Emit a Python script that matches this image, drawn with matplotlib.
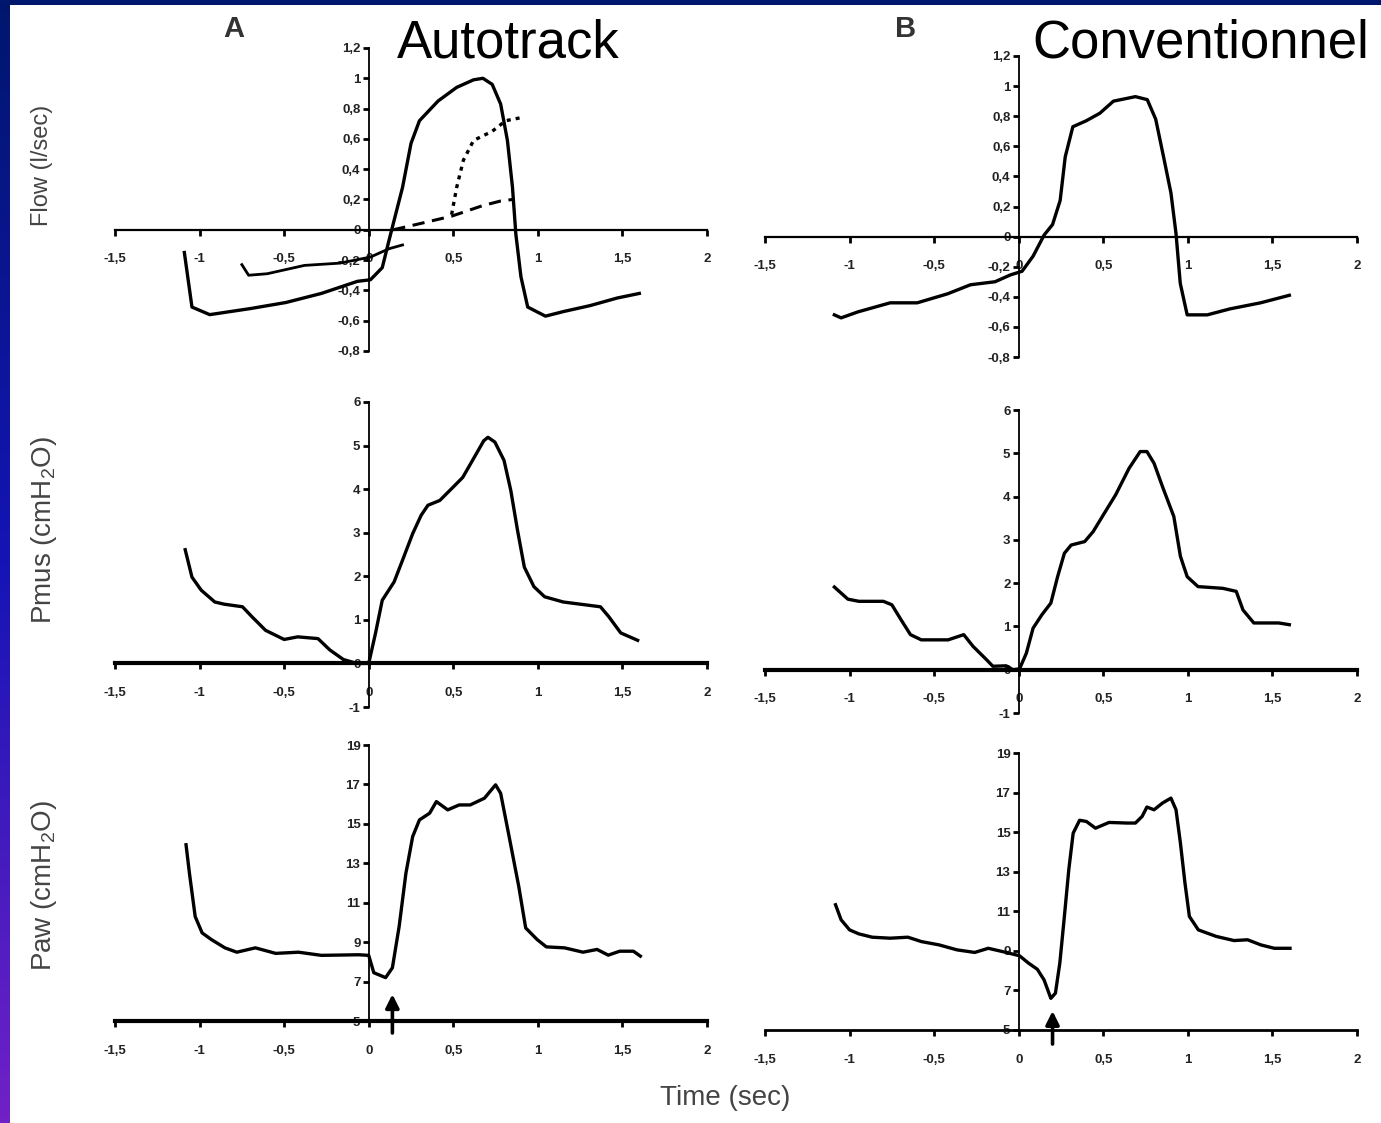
import numpy as np
import matplotlib
matplotlib.use("Agg")
import matplotlib.pyplot as plt
from matplotlib.patches import Rectangle

plt.rcParams['font.family'] = ['Liberation Sans', 'DejaVu Sans']
plt.rcParams['mathtext.default'] = 'regular'

# ---- data (time in s) ----
# A: Autotrack
flowA_t = [-1.09, -1.045, -0.94, -0.70, -0.49, -0.28, -0.066, 0.01, 0.08, 0.12, 0.145, 0.2, 0.25,
           0.30, 0.41, 0.52, 0.62, 0.675, 0.73, 0.78, 0.82, 0.85, 0.87, 0.9, 0.94, 1.045, 1.15,
           1.31, 1.47, 1.6]
flowA_v = [-0.15, -0.51, -0.56, -0.52, -0.48, -0.42, -0.34, -0.33, -0.25, -0.07, 0.04, 0.28, 0.57,
           0.72, 0.85, 0.94, 0.99, 1.0, 0.96, 0.83, 0.59, 0.28, -0.03, -0.31, -0.51, -0.57, -0.54,
           -0.50, -0.45, -0.42]
flowA2_t = [-0.75, -0.71, -0.6, -0.38, -0.17, 0.01, 0.12, 0.2]
flowA2_v = [-0.23, -0.30, -0.29, -0.235, -0.22, -0.18, -0.125, -0.10]
flowA_dash_t = [0.145, 0.3, 0.49, 0.675, 0.78, 0.85]
flowA_dash_v = [0.0, 0.04, 0.09, 0.16, 0.19, 0.2]
flowA_dot_t = [0.49, 0.52, 0.56, 0.62, 0.73, 0.81, 0.9]
flowA_dot_v = [0.1, 0.28, 0.46, 0.59, 0.65, 0.72, 0.74]

pmusA_t = [-1.085, -1.045, -0.99, -0.91, -0.855, -0.746, -0.69, -0.61, -0.5, -0.42, -0.3, -0.23,
           -0.15, -0.07, 0.0, 0.04, 0.08, 0.15, 0.2, 0.26, 0.31, 0.35, 0.42, 0.5, 0.556, 0.624,
           0.68, 0.705, 0.746, 0.8, 0.84, 0.88, 0.92, 0.977, 1.04, 1.15, 1.29, 1.37, 1.42, 1.49, 1.59]
pmusA_v = [2.61, 1.98, 1.68, 1.41, 1.36, 1.30, 1.07, 0.76, 0.55, 0.61, 0.57, 0.31,
           0.09, 0.0, 0.0, 0.69, 1.45, 1.87, 2.37, 2.98, 3.4, 3.63, 3.74, 4.05, 4.27, 4.73,
           5.11, 5.19, 5.08, 4.66, 3.97, 3.05, 2.21, 1.76, 1.53, 1.41, 1.34, 1.30, 1.07, 0.70, 0.53]

pawA_t = [-1.08, -1.06, -1.026, -0.985, -0.93, -0.85, -0.78, -0.67, -0.55, -0.415, -0.28, -0.06,
          0.0, 0.03, 0.1, 0.14, 0.18, 0.22, 0.26, 0.30, 0.36, 0.4, 0.467, 0.535, 0.6, 0.684,
          0.75, 0.78, 0.83, 0.887, 0.928, 0.996, 1.05, 1.158, 1.267, 1.35, 1.416, 1.484, 1.565, 1.606]
pawA_v = [13.94, 12.5, 10.3, 9.47, 9.13, 8.71, 8.49, 8.71, 8.43, 8.49, 8.33, 8.36,
          8.33, 7.45, 7.2, 7.7, 9.8, 12.5, 14.36, 15.2, 15.54, 16.13, 15.71, 15.96, 15.96, 16.3,
          16.98, 16.55, 14.36, 11.83, 9.72, 9.13, 8.76, 8.71, 8.49, 8.63, 8.34, 8.54, 8.54, 8.29]
triggerA = 0.14

# B: Conventionnel
flowB_t = [-1.09, -1.05, -0.95, -0.76, -0.6, -0.42, -0.285, -0.14, -0.05, 0.02, 0.085, 0.15, 0.2,
           0.245, 0.275, 0.32, 0.4, 0.48, 0.56, 0.69, 0.76, 0.81, 0.86, 0.9, 0.93, 0.955, 0.996,
           1.115, 1.25, 1.43, 1.6]
flowB_v = [-0.52, -0.54, -0.50, -0.44, -0.44, -0.38, -0.32, -0.30, -0.255, -0.23, -0.13, 0.01, 0.08,
           0.24, 0.53, 0.73, 0.77, 0.82, 0.9, 0.93, 0.91, 0.78, 0.51, 0.29, 0.02, -0.31, -0.52,
           -0.52, -0.48, -0.44, -0.39]

pmusB_t = [-1.09, -1.01, -0.945, -0.80, -0.75, -0.695, -0.64, -0.576, -0.417, -0.325, -0.27, -0.19,
           -0.153, -0.074, -0.034, 0.005, 0.045, 0.085, 0.137, 0.19, 0.23, 0.27, 0.31, 0.39, 0.44,
           0.507, 0.573, 0.652, 0.718, 0.758, 0.8, 0.85, 0.917, 0.956, 0.996, 1.06, 1.207, 1.286,
           1.326, 1.39, 1.537, 1.6]
pmusB_v = [1.91, 1.63, 1.58, 1.58, 1.5, 1.15, 0.81, 0.69, 0.69, 0.81, 0.54, 0.23,
           0.08, 0.09, 0.0, 0.02, 0.38, 0.96, 1.27, 1.54, 2.15, 2.69, 2.88, 2.96, 3.19,
           3.62, 4.04, 4.65, 5.04, 5.04, 4.77, 4.23, 3.54, 2.62, 2.15, 1.92, 1.88, 1.81,
           1.38, 1.08, 1.08, 1.04]

pawB_t = [-1.083, -1.05, -1.0, -0.946, -0.866, -0.76, -0.655, -0.576, -0.47, -0.365, -0.26, -0.18,
          -0.074, 0.005, 0.058, 0.11, 0.15, 0.19, 0.217, 0.243, 0.27, 0.296, 0.322, 0.36, 0.4,
          0.454, 0.534, 0.64, 0.69, 0.73, 0.758, 0.8, 0.85, 0.9, 0.93, 0.956, 0.983, 1.009,
          1.062, 1.168, 1.273, 1.353, 1.432, 1.511, 1.604]
pawB_v = [11.33, 10.57, 10.06, 9.86, 9.69, 9.64, 9.69, 9.47, 9.30, 9.05, 8.92, 9.13,
          8.92, 8.75, 8.38, 8.07, 7.53, 6.6, 6.86, 8.38, 10.74, 13.1, 14.95, 15.6, 15.54,
          15.2, 15.49, 15.46, 15.46, 15.8, 16.27, 16.13, 16.47, 16.72, 16.13, 14.45, 12.42, 10.74,
          10.06, 9.73, 9.52, 9.56, 9.3, 9.13, 9.13]
triggerB = 0.2

x_ticks = [-1.5, -1, -0.5, 0, 0.5, 1, 1.5, 2]
flow_ticks = [-0.8, -0.6, -0.4, -0.2, 0, 0.2, 0.4, 0.6, 0.8, 1, 1.2]
pmus_ticks = [-1, 0, 1, 2, 3, 4, 5, 6]
paw_ticks = [5, 7, 9, 11, 13, 15, 17, 19]


def comma(v):
    if abs(v) < 1e-9:
        return '0'
    return f'{round(v, 2):g}'.replace('.', ',')


W, H = 1381, 1123
fig = plt.figure(figsize=(W / 100, H / 100), dpi=100)
fig.patch.set_facecolor('white')


def px_axes(x0, x1, ytop, ybot):
    return fig.add_axes([x0 / W, 1 - ybot / H, (x1 - x0) / W, (ybot - ytop) / H])


def setup(ax, yticks, xaxis_zero, xlw):
    ax.set_xlim(-1.5, 2)
    ax.set_ylim(yticks[0], yticks[-1])
    ax.patch.set_alpha(0)
    ax.spines[['top', 'right']].set_visible(False)
    ax.spines['left'].set_position(('data', 0))
    if xaxis_zero:
        ax.spines['bottom'].set_position(('data', 0))
    ax.spines['left'].set_linewidth(1.3)
    ax.spines['bottom'].set_linewidth(xlw)
    ax.set_xticks(x_ticks)
    ax.set_xticklabels([comma(v) for v in x_ticks], fontweight='bold', fontsize=9.5, color='#222222')
    ax.set_yticks(yticks)
    ax.set_yticklabels([comma(v) for v in yticks], fontweight='bold', fontsize=9.5, color='#222222')
    ax.tick_params(axis='x', direction='out', length=4, width=2, pad=13)
    ax.tick_params(axis='y', direction='out', length=4, width=2, pad=2)


lw = 2.4

# ---- column A ----
ax = px_axes(115, 707, 48, 351)
setup(ax, flow_ticks, True, 1.6)
ax.plot(flowA_t, flowA_v, color='black', lw=lw)
ax.plot(flowA2_t, flowA2_v, color='black', lw=2.0)
ax.plot(flowA_dash_t, flowA_dash_v, color='black', lw=2.2, ls=(0, (4, 2.5)))
ax.plot(flowA_dot_t, flowA_dot_v, color='black', lw=2.4, ls=(0, (1.2, 1.5)))

ax = px_axes(115, 707, 402, 707)
setup(ax, pmus_ticks, True, 3)
ax.plot(pmusA_t, pmusA_v, color='black', lw=lw)

ax = px_axes(115, 707, 745, 1021)
setup(ax, paw_ticks, False, 3)
ax.plot(pawA_t, pawA_v, color='black', lw=lw)
ax.annotate('', xy=(triggerA, 6.5), xytext=(triggerA, 4.25), annotation_clip=False,
            arrowprops=dict(arrowstyle='-|>', lw=2.6, color='black', mutation_scale=20))

# ---- column B ----
ax = px_axes(765, 1357, 56, 357)
setup(ax, flow_ticks, True, 1.6)
ax.plot(flowB_t, flowB_v, color='black', lw=lw)

ax = px_axes(765, 1357, 410, 713)
setup(ax, pmus_ticks, True, 3)
ax.plot(pmusB_t, pmusB_v, color='black', lw=lw)

ax = px_axes(765, 1357, 753, 1030)
setup(ax, paw_ticks, False, 2)
ax.plot(pawB_t, pawB_v, color='black', lw=lw)
ax.annotate('', xy=(triggerB, 6.1), xytext=(triggerB, 4.15), annotation_clip=False,
            arrowprops=dict(arrowstyle='-|>', lw=2.6, color='black', mutation_scale=20))

# ---- texts ----
lab = dict(rotation=90, ha='center', va='center', color='#444444')
fig.text(42 / W, 1 - 165 / H, 'Flow (l/sec)', fontsize=17, **lab)
fig.text(44 / W, 1 - 530 / H, 'Pmus (cmH$_2$O)', fontsize=20, **lab)
fig.text(44 / W, 1 - 886 / H, 'Paw (cmH$_2$O)', fontsize=20, **lab)
fig.text(725 / W, 1 - 1098 / H, 'Time (sec)', ha='center', va='center', fontsize=20, color='#444444')

fig.text(234 / W, 1 - 29 / H, 'A', ha='center', va='center', fontsize=21, fontweight='bold', color='#333333')
fig.text(906 / W, 1 - 29 / H, 'B', ha='center', va='center', fontsize=21, fontweight='bold', color='#333333')
fig.text(397 / W, 1 - 43 / H, 'Autotrack', ha='left', va='center', fontsize=38, color='black')
fig.text(1032 / W, 1 - 43 / H, 'Conventionnel', ha='left', va='center', fontsize=38, color='black')

# ---- slide border ----
fig.patches.append(Rectangle((0, 1 - 5 / H), 1, 5 / H, transform=fig.transFigure,
                             facecolor=(0.0, 0.09, 0.43), edgecolor='none', zorder=5))
grad_ax = fig.add_axes([0, 0, 10 / W, 1])
top = np.array([0.0, 0.09, 0.43])
mid = np.array([0.08, 0.08, 0.71])
bot = np.array([0.44, 0.13, 0.78])
s = np.linspace(0, 1, 256)[:, None]
col = np.where(s < 0.5, top + (mid - top) * (s / 0.5), mid + (bot - mid) * ((s - 0.5) / 0.5))
grad_ax.imshow(col[:, None, :], aspect='auto', extent=(0, 1, 0, 1))
grad_ax.axis('off')

fig.savefig('out.png', dpi=100)
